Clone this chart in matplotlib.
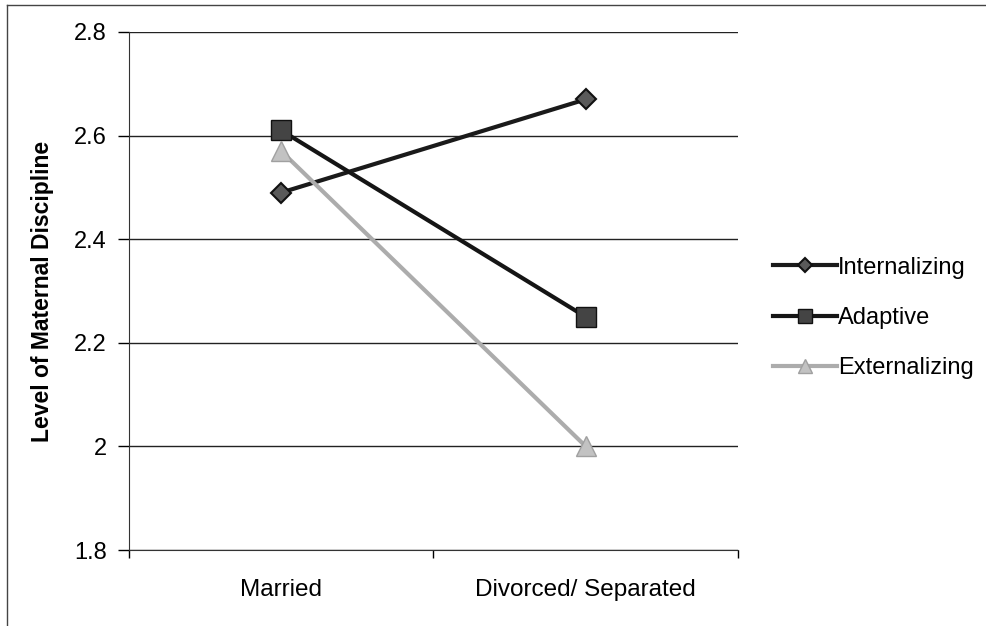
import matplotlib
matplotlib.use("Agg")
import matplotlib.pyplot as plt
from matplotlib.lines import Line2D

plt.rcParams['font.family'] = ['Liberation Sans', 'DejaVu Sans']

groups = ["Married", "Divorced/ Separated"]
internalizing = [2.49, 2.67]
adaptive = [2.61, 2.25]
externalizing = [2.57, 2.00]
yticks = [1.8, 2.0, 2.2, 2.4, 2.6, 2.8]
ytick_labels = ["1.8", "2", "2.2", "2.4", "2.6", "2.8"]

fig = plt.figure(figsize=(9.86, 6.26), dpi=100)
ax = fig.add_axes([0.1308, 0.1214, 0.6177, 0.8275])

x = list(range(len(groups)))
ax.plot(x, internalizing, color='#1a1a1a', lw=3, marker='D', ms=10,
        mfc='#5a5a5a', mec='#111111', mew=1.5, label='Internalizing', zorder=3)
ax.plot(x, adaptive, color='#151515', lw=3, marker='s', ms=14,
        mfc='#444444', mec='#111111', label='Adaptive', zorder=3)
ax.plot(x, externalizing, color='#acacac', lw=3, marker='^', ms=14,
        mfc='#c2c2c2', mec='#a0a0a0', label='Externalizing', zorder=3)

ax.set_xlim(-0.5, 1.5)
ax.set_ylim(1.8, 2.8)
ax.set_yticks(yticks)
ax.set_yticklabels(ytick_labels, fontsize=17)
ax.set_xticks(x)
ax.set_xticklabels(groups, fontsize=17.5)
ax.tick_params(axis='x', which='major', length=0, pad=21)
ax.set_xticks([-0.5, 0.5, 1.5], minor=True)
ax.tick_params(axis='x', which='minor', length=6, direction='out', width=1)
ax.tick_params(axis='y', length=8, direction='out', width=1, pad=8)
ax.yaxis.grid(True, color='#222222', lw=1)
ax.set_axisbelow(True)

for s in ['top', 'right']:
    ax.spines[s].set_visible(False)
for s in ['left', 'bottom']:
    ax.spines[s].set_color('#333333')

ax.set_ylabel("Level of Maternal Discipline", fontsize=16.5, fontweight='bold', labelpad=14)

leg = ax.legend(loc='center left', bbox_to_anchor=(1.023, 0.448), frameon=False,
                fontsize=17, handlelength=2.7, handletextpad=0.05, labelspacing=1.2,
                markerscale=0.75)

# outer frame (top and left edges only)
fig.add_artist(Line2D([0.007, 0.007], [0.0, 0.992], transform=fig.transFigure, color='#444444', lw=1))
fig.add_artist(Line2D([0.007, 1.0], [0.992, 0.992], transform=fig.transFigure, color='#444444', lw=1))

fig.savefig('out.png', dpi=100, facecolor='white')
